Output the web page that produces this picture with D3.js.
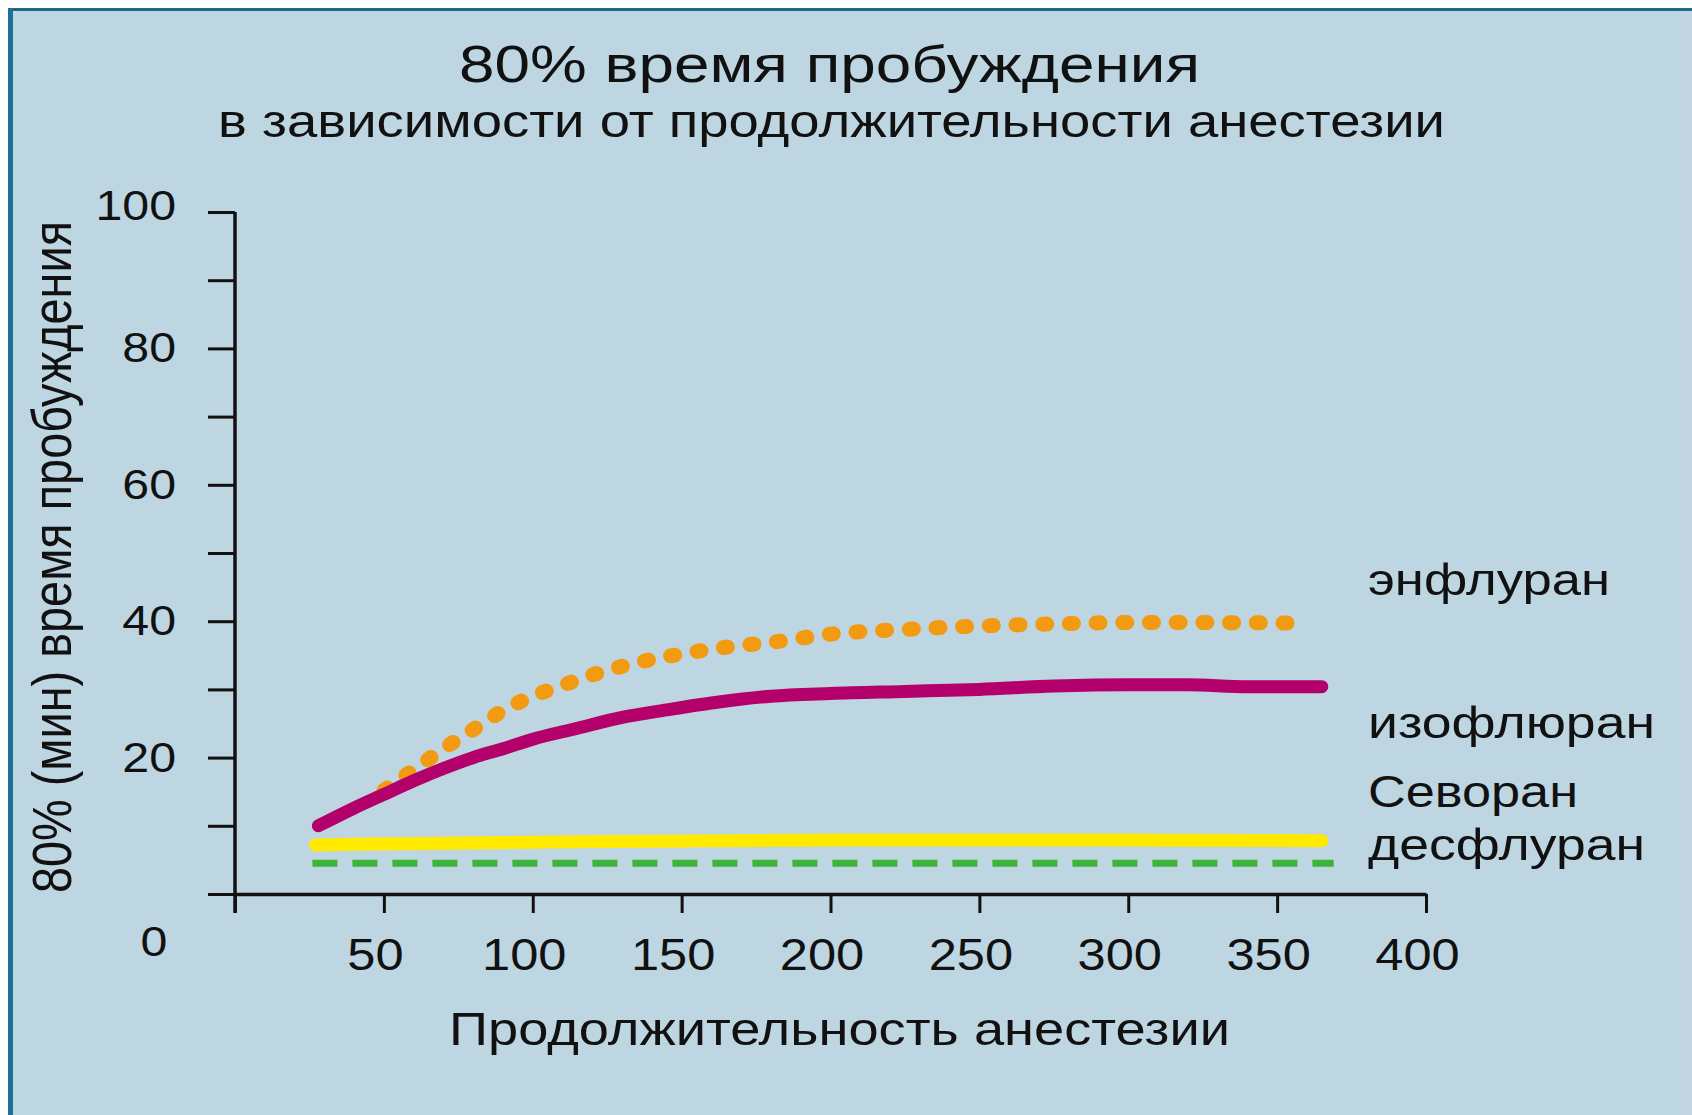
<!DOCTYPE html>
<html lang="ru">
<head>
<meta charset="utf-8">
<script src="https://cdn.jsdelivr.net/npm/d3@7"></script>
<style>
  html, body { margin: 0; padding: 0; background: #ffffff; }
  svg { display: block; }
  text { font-family: "Liberation Sans", Arial, Helvetica, sans-serif; fill: #111; }
</style>
</head>
<body>
<svg id="chart" width="1692" height="1115"></svg>
<script>
// Awakening time (80%) vs. duration of anaesthesia, minutes
const enfluraneX   = [50, 60, 70, 80, 90, 100, 110, 125, 140, 150, 165, 180, 200, 225, 250, 275, 300, 325, 359];
const enfluraneY   = [15.2, 18.2, 21.3, 24.1, 26.9, 29.0, 30.6, 32.8, 34.4, 35.2, 36.2, 36.9, 38.1, 38.8, 39.3, 39.6, 39.8, 39.8, 39.7];

const isofluraneX  = [28, 40, 50, 60, 70, 80, 90, 100, 115, 130, 145, 160, 180, 200, 225, 250, 275, 300, 320, 340, 365];
const isofluraneY  = [10.0, 12.6, 14.6, 16.6, 18.4, 20.0, 21.3, 22.7, 24.3, 25.9, 27.0, 28.0, 29.0, 29.4, 29.7, 30.0, 30.5, 30.7, 30.7, 30.4, 30.4];

const sevoraneX    = [27, 100, 200, 300, 365];
const sevoraneY    = [7.2, 7.6, 7.9, 7.9, 7.8];

const desfluraneX  = [26, 200, 369];
const desfluraneY  = [4.5, 4.5, 4.5];

const xTicks = [0, 50, 100, 150, 200, 250, 300, 350, 400];
const yTicks = [0, 10, 20, 30, 40, 50, 60, 70, 80, 90, 100];
const yLabelled = [0, 20, 40, 60, 80, 100];

const seriesNames = ["энфлуран", "изофлюран", "Севоран", "десфлуран"];

const svg = d3.select("#chart");
const W = 1692, H = 1115;

// panel background and frame
svg.append("rect").attr("x", 8).attr("y", 8).attr("width", W - 8).attr("height", H - 8).attr("fill", "#bed6e2");
svg.append("rect").attr("x", 1680).attr("y", 11).attr("width", 12).attr("height", H - 11).attr("fill", "#c3d5e3");
svg.append("line").attr("x1", 8).attr("x2", W).attr("y1", 9.5).attr("y2", 9.5).attr("stroke", "#1b6a88").attr("stroke-width", 3);
svg.append("line").attr("x1", 10.5).attr("x2", 10.5).attr("y1", 8).attr("y2", H).attr("stroke", "#1f6f98").attr("stroke-width", 5);

const x = d3.scaleLinear().domain([0, 400]).range([235, 1426]);
const y = d3.scaleLinear().domain([0, 100]).range([894, 212]);

function stretch(sel, w) {
  sel.attr("textLength", w).attr("lengthAdjust", "spacingAndGlyphs");
}
function stretchBy(sel, k) {
  sel.each(function () {
    const n = this.getComputedTextLength();
    if (n > 0) d3.select(this).attr("textLength", n * k).attr("lengthAdjust", "spacingAndGlyphs");
  });
}

// titles
svg.append("text").attr("x", 829.5).attr("y", 82).attr("text-anchor", "middle")
  .attr("font-size", 52).text("80% время пробуждения").call(stretch, 741);
svg.append("text").attr("x", 831.5).attr("y", 137).attr("text-anchor", "middle")
  .attr("font-size", 46).text("в зависимости от продолжительности анестезии").call(stretch, 1227);

// axes
const yAxis = d3.axisLeft(y).tickValues(yTicks).tickSize(27).tickSizeOuter(0).tickPadding(32)
  .tickFormat(d => yLabelled.includes(d) ? d : "");
const gy = svg.append("g").attr("transform", `translate(${x(0)},0)`).call(yAxis);

const xAxis = d3.axisBottom(x).tickValues(xTicks).tickSize(19).tickSizeOuter(0)
  .tickFormat(d => d === 0 ? "" : d);
const gx = svg.append("g").attr("transform", `translate(0,${y(0)})`).call(xAxis);

[gx, gy].forEach(g => {
  g.select(".domain").attr("stroke", "#111").attr("stroke-width", 3.5);
  g.selectAll(".tick line").attr("stroke", "#111").attr("stroke-width", 3);
  g.selectAll(".tick text").attr("fill", "#111").style("font-family", "'Liberation Sans', Arial, sans-serif");
});
// y-axis continues below the baseline as the 0 tick of the x-axis
gy.select(".domain").attr("d", `M0,${y(100)}V${y(0) + 19}`);

gy.selectAll(".tick text").attr("font-size", 42);
gy.selectAll(".tick").filter(d => d === 0).select("text")
  .attr("x", 154 - x(0)).attr("y", 61).attr("dy", 0).attr("text-anchor", "middle");
gy.selectAll(".tick").filter(d => d === 100).select("text").attr("y", -6);
stretchBy(gy.selectAll(".tick text"), 1.15);

gx.selectAll(".tick text").attr("font-size", 44).attr("y", 76).attr("dy", 0).attr("x", -9);
stretchBy(gx.selectAll(".tick text"), 1.15);

// axis titles
svg.append("text").attr("x", 839.5).attr("y", 1045).attr("text-anchor", "middle")
  .attr("font-size", 46).text("Продолжительность анестезии").call(stretch, 781);
svg.append("text").attr("transform", "translate(71,557) scale(1.2,1) rotate(-90)")
  .attr("text-anchor", "middle").attr("font-size", 46)
  .text("80% (мин) время пробуждения").call(stretch, 672);

// curves
const line = d3.line().x(d => x(d[0])).y(d => y(d[1])).curve(d3.curveMonotoneX);
const zip = (a, b) => a.map((v, i) => [v, b[i]]);

svg.append("path").datum(zip(desfluraneX, desfluraneY)).attr("d", line)
  .attr("fill", "none").attr("stroke", "#3cb43a").attr("stroke-width", 7)
  .attr("stroke-dasharray", "25 15");

svg.append("path").datum(zip(sevoraneX, sevoraneY)).attr("d", line)
  .attr("fill", "none").attr("stroke", "#ffea00").attr("stroke-width", 13)
  .attr("stroke-linecap", "round");

svg.append("path").datum(zip(enfluraneX, enfluraneY)).attr("d", line)
  .attr("fill", "none").attr("stroke", "#f29b12").attr("stroke-width", 15)
  .attr("stroke-linecap", "round").attr("stroke-dasharray", "4 22.7");

svg.append("path").datum(zip(isofluraneX, isofluraneY)).attr("d", line)
  .attr("fill", "none").attr("stroke", "#b4006b").attr("stroke-width", 13)
  .attr("stroke-linecap", "round");

// series labels
const labelBaselines = [595, 738, 807, 860];
const labelWidths = [242, 287, 210, 277];
seriesNames.forEach((name, i) => {
  svg.append("text").attr("x", 1368).attr("y", labelBaselines[i]).attr("font-size", 44)
    .text(name).call(stretch, labelWidths[i]);
});
</script>
</body>
</html>
